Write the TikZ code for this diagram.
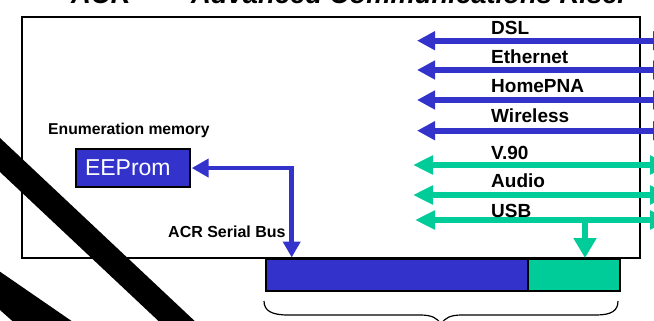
\documentclass[tikz,border=0pt]{standalone}
\usepackage{fontspec}
\setmainfont{Liberation Sans}
\usetikzlibrary{arrows.meta}
\definecolor{acrblue}{HTML}{3333CC}
\definecolor{acrgreen}{HTML}{00CC99}
\begin{document}
\begin{tikzpicture}[x=1pt,y=-1pt,
  lbl/.style={anchor=base west, inner sep=0pt, font=\bfseries\fontsize{19}{20}\selectfont},
  small/.style={anchor=base west, inner sep=0pt, font=\bfseries\fontsize{15.7}{17}\selectfont},
  ttl/.style={anchor=base west, inner sep=0pt, font=\bfseries\itshape\fontsize{27.4}{30}\selectfont},
  bluebus/.style={acrblue, line width=6pt, {Triangle[length=18pt,width=18pt]}-{Triangle[length=18pt,width=18pt]}},
  greenbus/.style={acrgreen, line width=6pt, {Triangle[length=20pt,width=18pt]}-{Triangle[length=20pt,width=18pt]}},
  elbow/.style={acrblue, line width=4.5pt, {Triangle[length=17pt,width=18pt]}-{Triangle[length=16pt,width=17pt]}},
  box/.style={draw=black, line width=2pt, outer sep=0pt, inner sep=0pt, anchor=north west}
]
\useasboundingbox (0,0) rectangle (654,321);
\clip (0,0) rectangle (654,321);

% title (clipped at top)
\node[ttl] (title1) at (71,4) {ACR};
\node[ttl] (title2) at (191,4) {Advanced Communications Riser};

% card outline
\node[box, minimum width=618pt, minimum height=241pt] (card) at (22,17) {};

% bottom connector bar
\node[box, fill=acrblue, minimum width=262pt, minimum height=31.7pt] (barblue) at (266,259) {};
\node[box, fill=acrgreen, minimum width=92pt, minimum height=31.7pt] (bargreen) at (barblue.north east) {};

% buses
\coordinate (dslL) at (417,40.7);  \coordinate (dslR) at (671,40.7);
\coordinate (ethL) at (417,70);    \coordinate (ethR) at (671,70);
\coordinate (hpnL) at (417,100);   \coordinate (hpnR) at (671,100);
\coordinate (wlsL) at (417,130.7); \coordinate (wlsR) at (671,130.7);
\coordinate (v90L) at (413,165);   \coordinate (v90R) at (670,165);
\coordinate (audL) at (413,195);   \coordinate (audR) at (670,195);
\coordinate (usbL) at (415,220);   \coordinate (usbR) at (670,220);
\draw[bluebus] (dslL) -- (dslR);
\draw[bluebus] (ethL) -- (ethR);
\draw[bluebus] (hpnL) -- (hpnR);
\draw[bluebus] (wlsL) -- (wlsR);
\draw[greenbus] (v90L) -- (v90R);
\draw[greenbus] (audL) -- (audR);
\draw[greenbus] (usbL) -- (usbR);
\coordinate (usbtap) at (585,220);
\draw[acrgreen, line width=6pt, -{Triangle[length=20pt,width=22pt]}] (usbtap) -- ([yshift=1pt]usbtap |- bargreen.north);

\node[lbl] (dsl) at (491,35) {DSL};
\node[lbl] (eth) at (491,63.3) {Ethernet};
\node[lbl] (hpn) at (491,93) {HomePNA};
\node[lbl] (wls) at (491,122.7) {Wireless};
\node[lbl] (v90) at (491,160) {V.90};
\node[lbl] (aud) at (491,187.3) {Audio};
\node[lbl] (usb) at (491,217.3) {USB};

% EEProm
\node[small] (enum) at (48,135) {Enumeration memory};
\node[box, fill=acrblue, minimum width=113.4pt, minimum height=37.5pt, text width=96pt, align=left,
      text=white, font=\fontsize{23}{25}\selectfont] (eeprom) at (76.3,149.3) {EEProm};
\node[small, font=\bfseries\fontsize{16}{17}\selectfont] (serial) at (168,237.3) {ACR Serial Bus};
\draw[elbow] ([xshift=2pt]eeprom.east) -| ([xshift=25.7pt,yshift=1.5pt]barblue.north west);

% brace
\draw[black, line width=1.2pt]
  (264,301) .. controls (264,311) and (272,315) .. (288,315) -- (420,315)
  .. controls (432,315) and (437,318) .. (441,324)
  (441,324) .. controls (445,318) and (450,315) .. (462,315) -- (596,315)
  .. controls (611,315) and (618,311) .. (618,301);

% break bands
\fill[black] (-20,119.2) -- (220,344.8) -- (220,378.8) -- (-20,153.2) -- cycle;
\fill[black] (0,271.7) -- (80,326.8) -- (18,326) -- (0,310) -- cycle;
\end{tikzpicture}
\end{document}
